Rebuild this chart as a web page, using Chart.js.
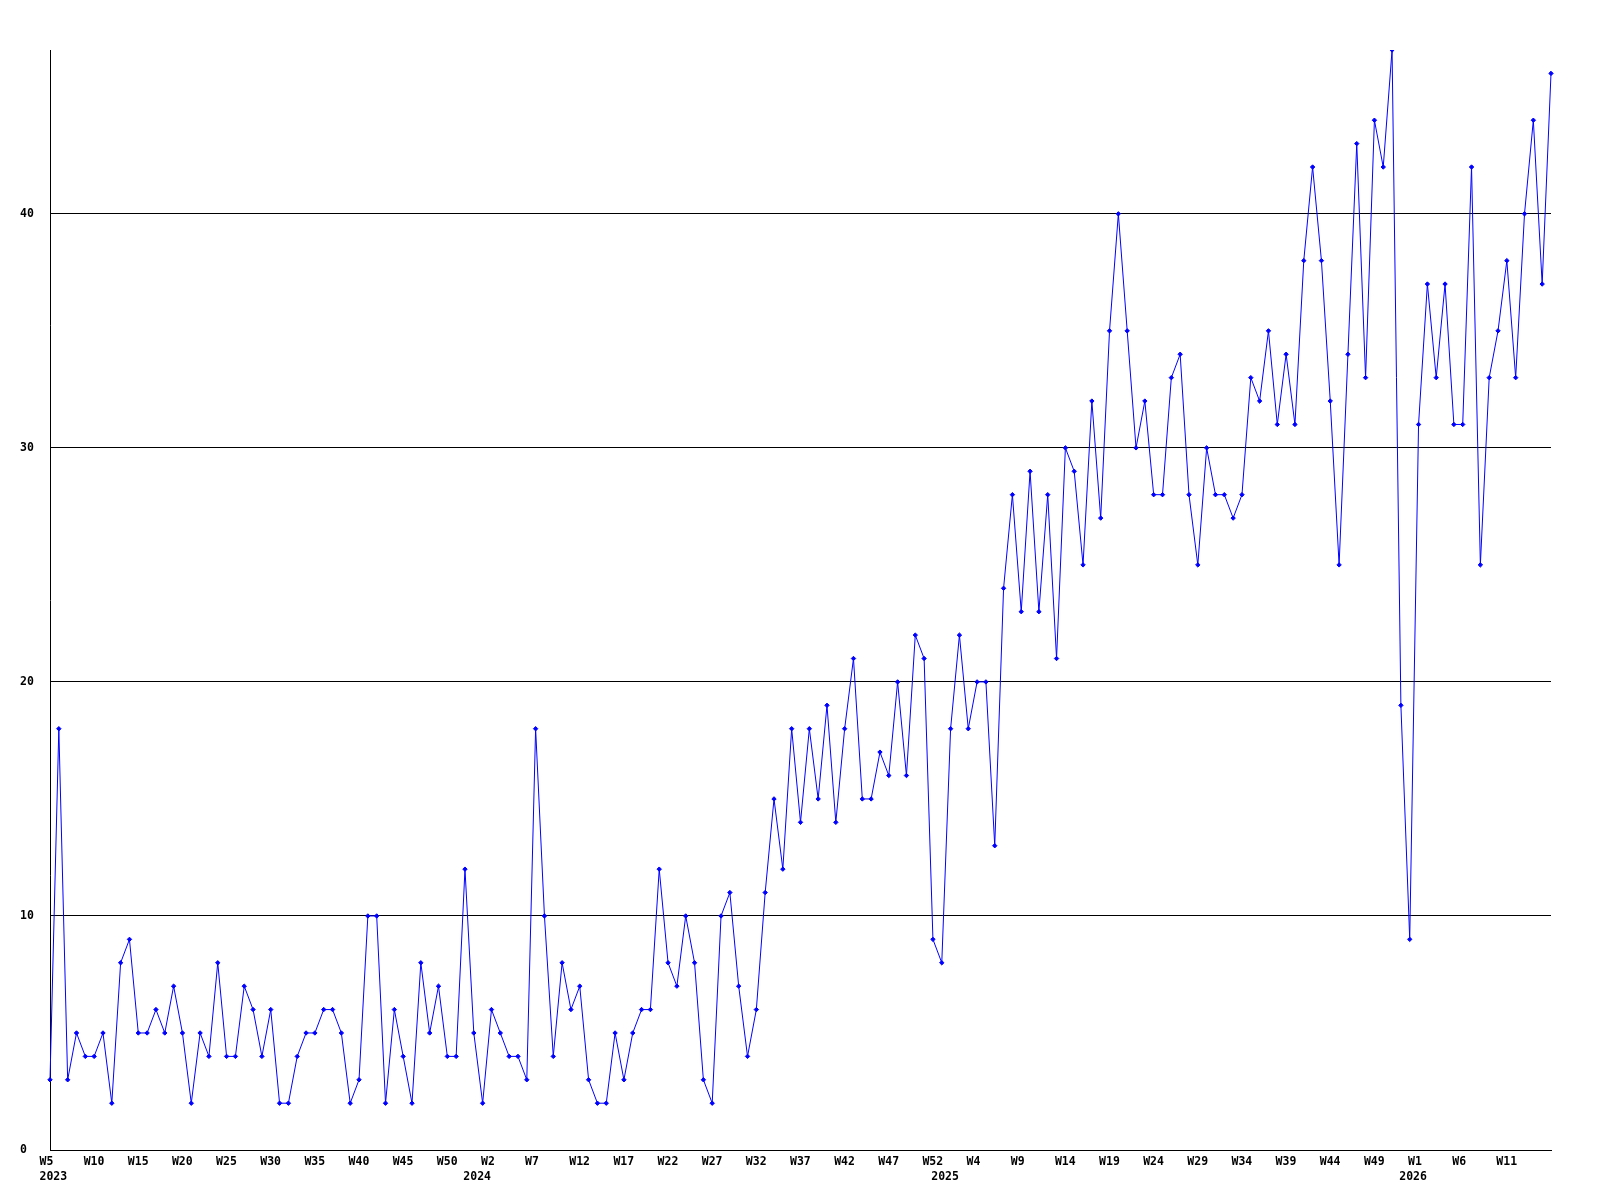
<!DOCTYPE html>
<html>
<head>
<meta charset="utf-8">
<style>
  html, body { margin: 0; padding: 0; background: #ffffff; }
  #wrap { width: 1600px; height: 1200px; }
</style>
<script src="https://cdn.jsdelivr.net/npm/chart.js@4/dist/chart.umd.min.js"></script>
</head>
<body>
<div id="wrap"><canvas id="c" width="1600" height="1200"></canvas></div>
<script>
// Week numbers per year (categories)
const weeks2023 = [5,6,7,8,9,10,11,12,13,14,15,16,17,18,19,20,21,22,23,24,25,26,27,28,29,30,31,32,33,34,35,36,37,38,39,40,41,42,43,44,45,46,47,48,49,50,51,52];
const weeks2024 = [0,1,2,3,4,5,6,7,8,9,10,11,12,13,14,15,16,17,18,19,20,21,22,23,24,25,26,27,28,29,30,31,32,33,34,35,36,37,38,39,40,41,42,43,44,45,46,47,48,49,50,51,52];
const weeks2025 = [0,1,2,3,4,5,6,7,8,9,10,11,12,13,14,15,16,17,18,19,20,21,22,23,24,25,26,27,28,29,30,31,32,33,34,35,36,37,38,39,40,41,42,43,44,45,46,47,48,49,50,51,52];
const weeks2026 = [0,1,2,3,4,5,6,7,8,9,10,11,12,13,14,15,16];

// Weekly values per year
const values2023 = [3,18,3,5,4,4,5,2,8,9,5,5,6,5,7,5,2,5,4,8,4,4,7,6,4,6,2,2,4,5,5,6,6,5,2,3,10,10,2,6,4,2,8,5,7,4,4,12];
const values2024 = [5,2,6,5,4,4,3,18,10,4,8,6,7,3,2,2,5,3,5,6,6,12,8,7,10,8,3,2,10,11,7,4,6,11,15,12,18,14,18,15,19,14,18,21,15,15,17,16,20,16,22,21,9];
const values2025 = [8,18,22,18,20,20,13,24,28,23,29,23,28,21,30,29,25,32,27,35,40,35,30,32,28,28,33,34,28,25,30,28,28,27,28,33,32,35,31,34,31,38,42,38,32,25,34,43,33,44,42,47,19];
const values2026 = [9,31,37,33,37,31,31,42,25,33,35,38,33,40,44,37,46];

// Axis tick values
const yTicks = [0,10,20,30,40];
const years = [2023, 2024, 2025, 2026];
const labelEvery = 5;

const yearWeeks = [weeks2023, weeks2024, weeks2025, weeks2026];
const categories = [];
const yearStart = {};
yearWeeks.forEach((wk, yi) => {
  yearStart[categories.length] = years[yi];
  wk.forEach(w => categories.push({ year: years[yi], week: w }));
});
const values = [].concat(values2023, values2024, values2025, values2026);
const labels = categories.map(c => c.year + '-W' + c.week);

function tickLabel(index) {
  const c = categories[index];
  const isLast = index === categories.length - 1;
  const top = (index % labelEvery === 0 && !isLast) ? 'W' + c.week : '';
  const bottom = (yearStart[index] !== undefined) ? String(yearStart[index]) : '';
  if (!top && !bottom) return '';
  if (bottom) return [top, bottom];
  return top;
}

const font = { family: "'DejaVu Sans Mono', monospace", size: 11.5, weight: 'bold', lineHeight: '15px' };

new Chart(document.getElementById('c'), {
  type: 'line',
  data: {
    labels: labels,
    datasets: [{
      data: values,
      borderColor: '#0000ff',
      backgroundColor: '#0000ff',
      borderWidth: 1,
      tension: 0,
      pointStyle: 'rectRot',
      pointRadius: 2.2,
      pointBorderWidth: 1,
      pointBackgroundColor: '#0000ff',
      pointBorderColor: '#0000ff',
      fill: false
    }]
  },
  options: {
    responsive: false,
    animation: false,
    devicePixelRatio: 1,
    events: [],
    layout: { padding: { left: 20, right: 49, top: 50, bottom: 10 } },
    plugins: { legend: { display: false }, tooltip: { enabled: false }, title: { display: false } },
    scales: {
      x: {
        type: 'category',
        offset: false,
        grid: { display: false, drawTicks: false },
        border: { display: true, color: '#000000', width: 1 },
        ticks: {
          autoSkip: false,
          maxRotation: 0,
          minRotation: 0,
          align: 'start',
          labelOffset: -10.5,
          padding: 4.5,
          color: '#000000',
          font: font,
          callback: function(value, index) { return tickLabel(index); }
        },
        afterFit: function(scale) { scale.height = 40; }
      },
      y: {
        type: 'linear',
        min: 0,
        max: 47,
        grid: { display: true, color: '#000000', lineWidth: 1, drawTicks: false },
        border: { display: true, color: '#000000', width: 1 },
        afterBuildTicks: function(scale) { scale.ticks = yTicks.map(v => ({ value: v })); },
        ticks: {
          includeBounds: false,
          stepSize: 10,
          crossAlign: 'far',
          padding: 0,
          color: '#000000',
          font: font
        },
        afterFit: function(scale) { scale.width = 30; }
      }
    }
  }
});
</script>
</body>
</html>
